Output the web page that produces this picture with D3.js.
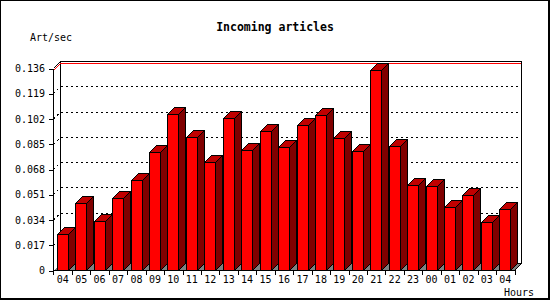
<!DOCTYPE html>
<html>
<head>
<meta charset="utf-8">
<script src="https://cdn.jsdelivr.net/npm/d3@7"></script>
<style>
  html, body { margin: 0; padding: 0; background: #fff; }
  svg { display: block; }
  text { font-family: "DejaVu Sans Mono", monospace; }
</style>
</head>
<body>
<svg id="chart" width="550" height="300" shape-rendering="crispEdges"></svg>
<script>
// data
const hours = ["04", "05", "06", "07", "08", "09", "10", "11", "12", "13", "14", "15", "16",
  "17", "18", "19", "20", "21", "22", "23", "00", "01", "02", "03", "04"];
const artPerSec = [0.0247, 0.0456, 0.0330, 0.0489, 0.0610, 0.0798, 0.1055, 0.0900, 0.0732,
  0.1028, 0.0808, 0.0936, 0.0833, 0.0981, 0.1048, 0.0893, 0.0806, 0.1347, 0.0839, 0.0577,
  0.0570, 0.0429, 0.0510, 0.0328, 0.0415];
const yTicks = [0, 0.017, 0.034, 0.051, 0.068, 0.085, 0.102, 0.119, 0.136];

const svg = d3.select("#chart");
const W = 550, H = 300;
const plot = { left: 53.5, right: 514.5, top: 68.5, bottom: 270.5 };
const depth = 7;

const x = d3.scaleBand(d3.range(hours.length), [plot.left, plot.right]);
const y = d3.scaleLinear([0, 0.136], [plot.bottom, plot.top]);
const bw = x.bandwidth();

// frame
svg.append("rect").attr("x", 0.5).attr("y", 0.5).attr("width", W - 2).attr("height", H - 2)
  .attr("fill", "#fff").attr("stroke", "#000");
svg.append("path").attr("d", `M${W - 0.5},0V${H - 0.5}H0`).attr("fill", "none").attr("stroke", "#000");

// back wall
const back = { l: plot.left + depth, r: plot.right + depth, t: plot.top - depth, b: plot.bottom - depth };
svg.append("rect").attr("x", back.l).attr("y", back.t)
  .attr("width", back.r - back.l).attr("height", back.b - back.t)
  .attr("fill", "#fff").attr("stroke", "#000");

// dotted grid
svg.append("g").selectAll("path")
  .data(yTicks.slice(1, -1))
  .join("path")
  .attr("d", (t) => `M${plot.left},${y(t)}L${back.l},${y(t) - depth}H${back.r}`)
  .attr("fill", "none").attr("stroke", "#000").attr("stroke-dasharray", "2,3");

// top edge
svg.append("path")
  .attr("d", `M${plot.left},${plot.top}L${back.l},${back.t}`)
  .attr("stroke", "#000");

// max line
const maxV = d3.max(artPerSec);
const ym = Math.round(y(maxV) - depth) + 0.5;
svg.append("path")
  .attr("d", `M${plot.left},${ym + depth}L${back.l},${ym}H${back.r - 0.5}`)
  .attr("fill", "none").attr("stroke", "#ff0000");

// floor
svg.append("path")
  .attr("d", `M${plot.left},${plot.bottom}H${plot.right}L${back.r},${back.b}H${back.l}Z`)
  .attr("fill", "#808080");
svg.append("path")
  .attr("d", `M${plot.right},${plot.bottom}L${back.r},${back.b}`)
  .attr("stroke", "#000");

// bars
const bars = svg.append("g").attr("stroke", "#000");
const bx = (i) => Math.round(x(i) + bw * 0.18) + 0.5;
const fw = Math.round(bw * 0.6);
artPerSec.forEach((v, i) => {
  const l = bx(i), r = l + fw, t = Math.round(y(v)) + 0.5, b = plot.bottom;
  const g = bars.append("g");
  g.append("path").attr("d", `M${r},${b}L${r + depth},${b - depth}V${t - depth}L${r},${t}Z`).attr("fill", "#800000");
  g.append("path").attr("d", `M${l},${t}L${l + depth},${t - depth}H${r + depth}L${r},${t}Z`).attr("fill", "#c00000");
  g.append("rect").attr("x", l).attr("y", t).attr("width", fw).attr("height", b - t).attr("fill", "#ff0000");
});

// y axis
const yAxis = svg.append("g")
  .attr("transform", `translate(${plot.left - 0.5},0)`)
  .call(d3.axisLeft(y).tickValues(yTicks).tickSize(4).tickSizeOuter(0).tickPadding(4)
    .tickFormat((d) => (d === 0 ? "0" : d3.format(".3f")(d))));
yAxis.selectAll("path, line").attr("stroke", "#000");
yAxis.selectAll("text").attr("font-family", "DejaVu Sans Mono").attr("font-size", 10).attr("fill", "#000");

// x axis
const xAxis = svg.append("g")
  .attr("transform", `translate(0,${plot.bottom - 0.5})`)
  .call(d3.axisBottom(x).tickSize(0).tickPadding(6).tickFormat((i) => hours[i]));
xAxis.select(".domain").attr("stroke", "#000");
xAxis.selectAll("text").attr("font-family", "DejaVu Sans Mono").attr("font-size", 10).attr("fill", "#000");
xAxis.selectAll(".bound")
  .data(d3.range(hours.length + 1))
  .join("line")
  .attr("class", "bound")
  .attr("x1", (i) => Math.round(i < hours.length ? x(i) : plot.right) + 0.5)
  .attr("x2", (i) => Math.round(i < hours.length ? x(i) : plot.right) + 0.5)
  .attr("y1", 0).attr("y2", 5)
  .attr("stroke", "#000");

// titles
svg.append("text").attr("x", W / 2).attr("y", 31).attr("text-anchor", "middle")
  .attr("font-size", 11.5).attr("font-weight", "bold").text("Incoming articles");
svg.append("text").attr("x", 30).attr("y", 41).attr("font-size", 10).text("Art/sec");
svg.append("text").attr("x", 504).attr("y", 296).attr("font-size", 10).text("Hours");
</script>
</body>
</html>
